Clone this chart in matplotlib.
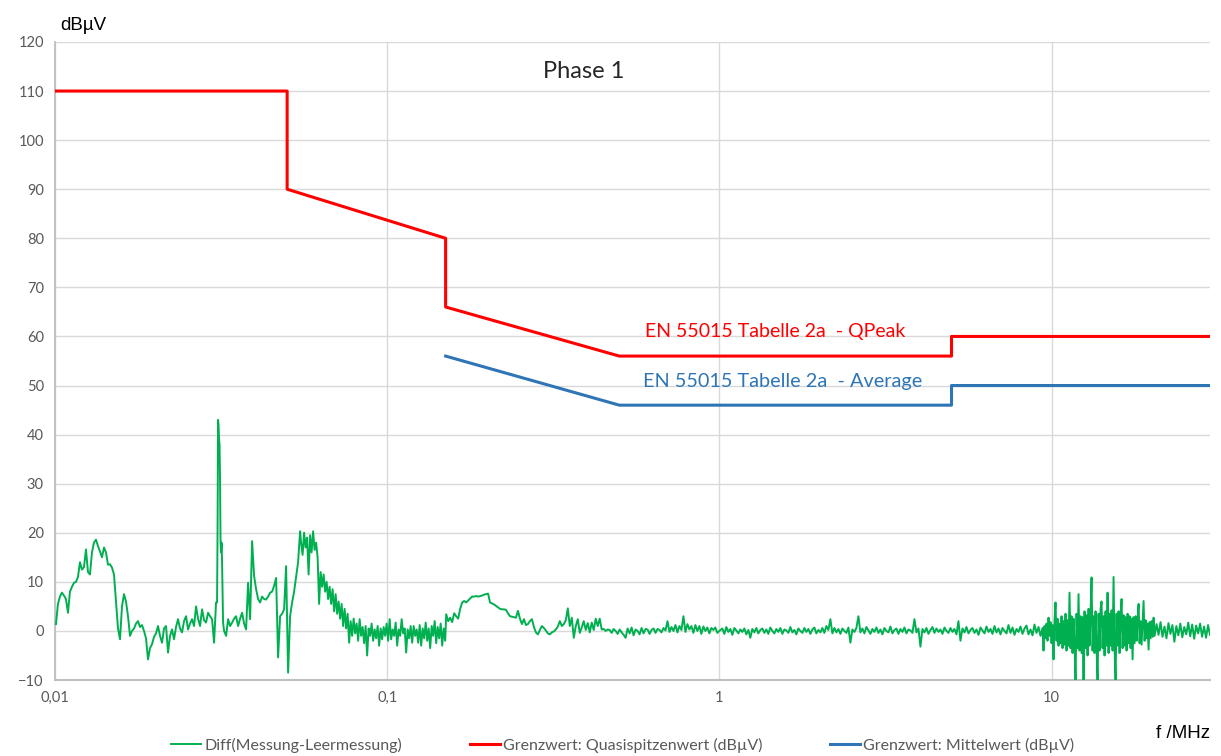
import matplotlib

matplotlib.use("Agg")
import matplotlib.pyplot as plt
import numpy as np
from matplotlib.ticker import FixedLocator, NullLocator

# Limit lines (EN 55015, Tabelle 2a), frequency in MHz, level in dBuV
QP_FREQ = [0.01, 0.05, 0.05, 0.15, 0.15, 0.5, 5, 5, 30]
QP_LEVEL = [110, 110, 90, 80, 66, 56, 56, 60, 60]
AV_FREQ = [0.15, 0.5, 5, 5, 30]
AV_LEVEL = [56, 46, 46, 50, 50]

# Each piece: start MHz, stop MHz, levels on a log-spaced sweep.
DIFF_1 = [1.4, 5.5, 7, 7.8, 7.2, 6.5, 3.7, 8, 9, 9.8, 10, 11, 14, 12.5, 13, 16.6,
          12, 11.5, 16, 18, 18.6, 17.3, 16.2, 15, 17, 16, 13.5, 13.6, 12.9, 11.5,
          6, 0.5, -1.7, 5, 7.5, 6, 3, -1, 0, 0.5, 1.5, 2, 0.8, 1.2, 0, -1.5, -5.8,
          -3.5, -2.7, -1.2, -0.5, 1, -1, -2.4, 0.5, 1, -4.4, -1, 0.3, -1.7, 0.8,
          2.4, 0.5, -0.3, 2, 3, 0.3, 1.5, 2.4, 1, 5, 2.5, 1, 4.4, 2.2, 1.7, 3.7, 3,
          2.4, -2.4, 5.8]
DIFF_2 = [5.8, 20, 43, 42, 39, 38, 30, 18, 16, 18, 14, 8, 1.7]
DIFF_3 = [0, -1, 2.4, 1, 1.7, 2.5, 3, 1, 2.5, 3.7, 1.5, 0.3, 9.8, 2.4, 18.3, 11.2,
          8.5, 6.5, 5.8, 7, 6.5, 6.4, 7, 7.8, 8, 9.2, 10.8, -5.4, 3, 3.5, 4.4, 13.2,
          -8.5, 3, 5.8, 8, 11, 14, 20.3]
DIFF_4 = [18, 15.5, 20, 17, 19, 11.5, 19.5, 16, 20.3, 16.5, 18, 15, 5.5, 12, 9,
          11.5, 8, 10, 6.5, 9, 5.5, 8.5, 4, 7.5, 3.5, 6, 2.5, 5.5, 1, 4.5, 0.5, 3.5,
          -2.4, 2, -1, 2.5, -0.5, 1.5, -2, 2.4, -1, 0.8, -2.5, 1, -5, 0.5, -1, 1.5,
          -2, 0.3, -1.5, 1, -3, 0.5, -1.7, 0.8, -1, 1.5, -2, 2.4, -1.7, 0.3, -1, 1.7,
          -3, 0.3, -1, 2.4, -0.5, 0.5, -4.4, 0.3, -1.5, 1, -2.4, 1, -1, 0.3, -2.4,
          1.2, -3, 0.5, -1.5, 1.7, -2, 0.5, -3.5, 1, -1, 2, -2.5, 0.8, -1.5, 1.5, -3,
          0.5, -2]
DIFF_5 = [3.4, 2.0, 2.7, 1.8, 3.6, 3.0, 2.5, 4.5, 5.8, 6.1, 5.8, 6.2, 6.6, 7.0,
          7.0, 7.1, 7.0, 7.1, 7.2, 7.4, 7.5, 7.6, 5.8, 5.6, 5.4, 5.1, 4.8, 4.5, 4.4,
          4.4, 4.3, 3.6, 3.0, 2.9, 2.8, 2.7, 4.1, 2.5, 1.4, 2.4, 1.2, 1.4, 2.0, 2.4,
          0.8, -0.3, -0.7, 0.2, 1.0, 0.6, 0.1, -0.5, -0.7, -0.3, -0.1, 0.3, 0.9, 2.0,
          1.0, 1.4, 2.2, 4.6, 1.0, 2.7, -1.4, 1.0, 2.4, -0.4, 0.7, 2.0, 0.2, 1.6,
          -0.3, 1.7, 0.2, 2.5, 1.0, 2.5, 0.3, 0.4, 0.0, 0.3, 0.2, -0.4, 0.4, 0.0,
          -0.6, 0.3, -0.3, -0.8, -1.4, 0.5, -0.5, 0.7, -0.9, 0.3, 0.0, -0.7, 0.6,
          -0.5, 0.4, 0.3, -0.6, 0.2, 0.5, -0.4, 0.4, 0.2, -0.3, 0.6, 0.1, 2.0, -0.2,
          0.8, 0.0, 1.2, -0.3, 1.0, 0.2, 3.0, -0.2, 1.4, 0.3, 1.0, -0.4, 1.2, 0.0,
          1.0, -0.6, 0.9, 0.0, 0.7, -0.5, 0.6, 0.2, 0.7, -0.4, 0.0]
DIFF_6 = [0.5, -0.6, 0.8, -0.2, 0.4, -0.8, 0.6, 0.1, -0.5, 0.3,
          -0.2, 0.5, -0.7, 0.2, -1.4, 0.4, -0.3, 0.6, -0.5, 0.2,
          0.5, -0.4, 0.3, -0.6, 0.7, 0.0, -0.5, 0.4, -0.2, 0.6,
          -0.6, 0.3, 0.1, -0.4, 0.8, -0.3, 0.2, -0.7, 0.5, 0.0,
          -0.4, 0.6, -0.2, 0.4, -0.6, 0.3, 0.7, -0.5, 0.2, -0.3,
          0.6, -0.4, 1.0, 0.2, 2.4, -0.5, 0.6, -0.3, 0.4, -0.6,
          0.5, 0.0, -0.4, 0.7, -2.4, 0.3, -0.2, 0.6, 3.0, -0.3,
          0.5, -0.5, 0.8, 0.1, -0.6, 0.4, -0.2, 0.7, -0.4, 0.3,
          -0.7, 0.6, 0.0, -0.3, 0.9, -0.5, 0.2, 0.5, -0.6, 0.4,
          -0.2, 0.7, -0.5, 0.3, 0.1, -0.4, 2.4, -0.3, 0.5, -3.2,
          0.4, -0.3, 0.6, -0.6, 0.2, 0.8, -0.4, 0.5, -0.2, 0.3,
          -0.6, 0.7, 0.0, -0.4, 0.6, -0.2, 0.4, -0.7, 2.0, -2.0,
          0.5, -0.3, 0.8, -0.5, 0.2, 0.6, -0.4, 0.3, -0.8, 0.7,
          0.1, -0.5, 0.9, -0.2, 0.4, -0.6, 1.0, -0.3, 0.5, -0.7,
          0.6, 0.0, -0.5, 1.2, -0.4, 0.7, -0.8, 0.4, -0.2, 0.9,
          -0.6, 0.5, 1.1, -0.7, 0.3, -0.9, 1.3, -0.4, 0.8, -1.0,
          0.6]
DIFF_7 = [-4.0, 1.0, -1.5, 1.5, -2.0, 2.7, -1.0, 1.8, -2.5, 1.2, -5.8, 2.0, 5.8,
          -2.0, 2.5, -3.0, 1.5, -2.5, 3.0, -3.5, 2.0, -2.8, 3.5, -4.0, 2.2, -3.0,
          7.8, -3.5, 3.0, -4.5, 2.5, -3.0, -10.0, 3.5, -3.5, 7.5, -4.0, 3.0, -4.5,
          2.8, -10.0, 4.0, -3.5, 3.2, -5.0, 4.5, -3.0, 3.5, 10.9, -4.0, 3.0, -4.5,
          4.0, -3.5, -10.0, 3.5, -4.0, 4.5, 6.0, -3.5, 3.0, -5.0, 4.0, -3.0, 7.8,
          -4.5, 3.5, -3.0, 4.2, -4.0, 11.0, -3.5, -10.0, 3.5, -3.0, 4.0, -4.5, 3.0,
          6.5, -3.5, 3.2, -3.0, 2.8, -4.0, 3.5, -2.5, 3.0, -3.5, 2.5, -5.8, 2.8,
          -2.5, 3.0, -2.0, 2.5, 5.5, -2.5, 2.0, -2.8, 1.8, 6.1, -2.0, 2.2, -1.5,
          1.5, -3.8, 1.8, -1.5, 2.0, -1.2, 2.7]
DIFF_8 = [-1.0, 1.4, -0.8, 1.8, -1.2, 0.9, -1.5, 1.6, -0.6, 1.2, -2.2, 1.0, -0.9,
          1.5, -1.3, 0.8, -0.7, 1.7, -1.1, 1.3, -1.6, 1.1, -0.5, 1.5, -1.2, 0.9,
          -1.4, 1.2, -0.8]
DIFF_PIECES = [
    (0.01007, 0.03055, DIFF_1),
    (0.03076, 0.03207, DIFF_2),
    (0.0323, 0.0547, DIFF_3),
    (0.05508, 0.14955, DIFF_4),
    (0.15059, 1.0, DIFF_5),
    (1.021, 9.395, DIFF_6),
    (9.46, 20.29, DIFF_7),
    (20.43, 30.0, DIFF_8),
]

X_TICKS = [0.01, 0.1, 1, 10]
X_LABELS = ["0,01", "0,1", "1", "10"]
Y_TICKS = list(range(-10, 121, 10))

GREEN = "#00b050"
RED = "#ff0000"
BLUE = "#2e75b6"
GREY_TXT = "#595959"
GRID = "#d9d9d9"

diff_f = np.concatenate([np.geomspace(a, b, len(v)) for a, b, v in DIFF_PIECES])
diff_v = np.concatenate([np.asarray(v, float) for _, _, v in DIFF_PIECES])

fig = plt.figure(figsize=(12.21, 7.56), dpi=100)
ax = fig.add_axes([0.045, 0.1005, 0.946, 0.844])

ax.plot(diff_f, diff_v, color=GREEN, lw=1.4, label="Diff(Messung-Leermessung)", zorder=3)
ax.plot(QP_FREQ, QP_LEVEL, color=RED, lw=2.2, label="Grenzwert: Quasispitzenwert (dBµV)", zorder=4)
ax.plot(AV_FREQ, AV_LEVEL, color=BLUE, lw=2.2, label="Grenzwert: Mittelwert (dBµV)", zorder=4)

ax.set_xscale("log")
ax.set_xlim(0.01, 30)
ax.set_ylim(-10, 120)
ax.xaxis.set_major_locator(FixedLocator(X_TICKS))
ax.xaxis.set_minor_locator(NullLocator())
ax.set_xticks(X_TICKS, X_LABELS)
ax.set_yticks(Y_TICKS)
ax.tick_params(length=0, labelsize=10.5, labelcolor=GREY_TXT, pad=8)
for lab in ax.get_xticklabels() + ax.get_yticklabels():
    lab.set_fontfamily("Lato")
ax.grid(True, color=GRID, lw=1.0, zorder=0)
for s in ("top", "right"):
    ax.spines[s].set_visible(False)
ax.spines["left"].set_color("#bfbfbf")
ax.spines["bottom"].set_color("#bfbfbf")
ax.spines["left"].set_linewidth(1.3)
ax.spines["bottom"].set_linewidth(1.5)

ax.text(0.39, 114, "Phase 1", fontsize=17, family="Lato", color="#262626", ha="center", va="center")
ax.text(1.47, 61, "EN 55015 Tabelle 2a  - QPeak", fontsize=14, family="Lato", color=RED,
        ha="center", va="center")
ax.text(1.55, 50.8, "EN 55015 Tabelle 2a  - Average", fontsize=14.3, family="Lato", color=BLUE,
        ha="center", va="center")

fig.text(0.049, 0.966, "dBµV", fontsize=13.5, family="Liberation Sans", ha="left", va="center")
fig.text(0.991, 0.03, "f /MHz", fontsize=13.5, family="Liberation Sans", ha="right", va="center")

leg = fig.legend(loc="center", bbox_to_anchor=(0.51, 0.014), ncol=3, frameon=False,
                 prop={"family": "Lato", "size": 11.5}, handlelength=1.9, columnspacing=4.2,
                 handletextpad=0.2)
for t in leg.get_texts():
    t.set_color(GREY_TXT)

fig.savefig("out.png", dpi=100)
